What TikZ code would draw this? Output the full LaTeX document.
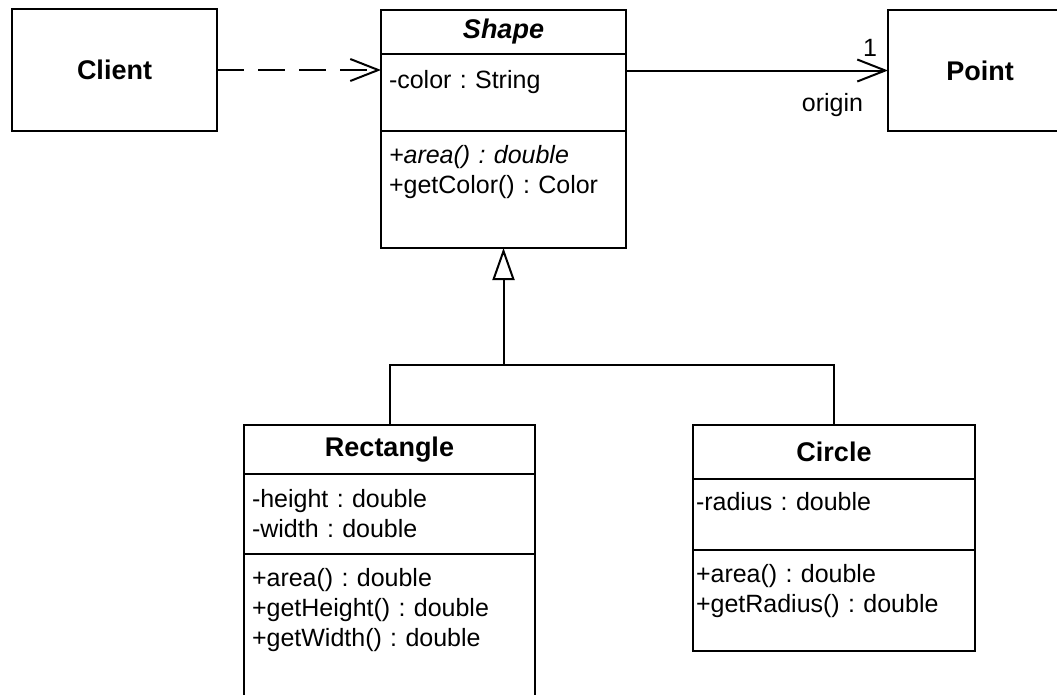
\documentclass[tikz,border=0pt]{standalone}
\usepackage{fontspec}
\setmainfont{Liberation Sans}
\usetikzlibrary{positioning, arrows.meta}
\newcommand{\umlfont}{\fontsize{25}{30}\selectfont}
\newcommand{\umltitlefont}{\fontsize{27}{32}\selectfont\bfseries}
\frenchspacing

\begin{document}
\begin{tikzpicture}[x=1pt, y=-1pt, line width=2pt,
  classname/.style={draw, align=center, inner sep=0pt, outer sep=0pt, font=\umltitlefont},
  members/.style={draw, align=left, inner xsep=8pt, inner ysep=0pt, outer sep=0pt, font=\umlfont},
  role/.style={inner sep=0pt, font=\umlfont},
  uses/.style={-{Straight Barb[length=28pt, width=22pt]}, dash pattern=on 27pt off 14pt},
  assoc/.style={-{Straight Barb[length=28pt, width=22pt]}},
  inherit/.style={-{Triangle[open, length=32pt, width=22pt]}},
]
\useasboundingbox (0,0) rectangle (1057,694);

\node[classname, minimum width=205pt, minimum height=122pt] (client) at (114.5, 70) {Client};
\node[classname, minimum width=184pt, minimum height=121pt] (point) at (980, 70.5) {Point};

% abstract base class
\node[classname, minimum width=245pt, minimum height=44pt, font=\umltitlefont\itshape] (shape) at (503.5, 32) {Shape};
\node[members, below=0pt of shape, text width=229pt, text height=34pt, text depth=43pt] (shapeattr) {-color : String};
\node[members, below=0pt of shapeattr, text width=229pt, text height=32pt, text depth=85pt] (shapeops) {{\itshape +area() : double}\\+getColor() : Color};

% subclasses
\node[classname, minimum width=291pt, minimum height=49pt] (rect) at (389.5, 449.5) {Rectangle};
\node[members, below=0pt of rect, text width=275pt, text height=33pt, text depth=47pt] (rectattr) {-height : double\\-width : double};
\node[members, below=0pt of rectattr, text width=275pt, text height=32pt, text depth=118pt] (rectops) {+area() : double\\+getHeight() : double\\+getWidth() : double};

\node[classname, minimum width=282pt, minimum height=54pt] (circle) at (834, 452) {Circle};
\node[members, below=0pt of circle, inner xsep=3pt, text width=276pt, text height=31pt, text depth=40pt] (circattr) {-radius : double};
\node[members, below=0pt of circattr, inner xsep=3pt, text width=276pt, text height=32pt, text depth=69pt] (circops) {+area() : double\\+getRadius() : double};

\draw[uses] (client) -- (client -| shapeattr.west);
\draw[assoc] (shapeattr.east |- point) -- (point)
  node[role, pos=1, above left=13pt and 10pt] {1}
  node[role, pos=1, below left=22pt and 24pt] {origin};

\coordinate (fork) at (503.5, 365);
\draw[inherit] (fork) -- (shapeops);
\draw (rect) |- (fork) -| (circle);
\end{tikzpicture}
\end{document}
